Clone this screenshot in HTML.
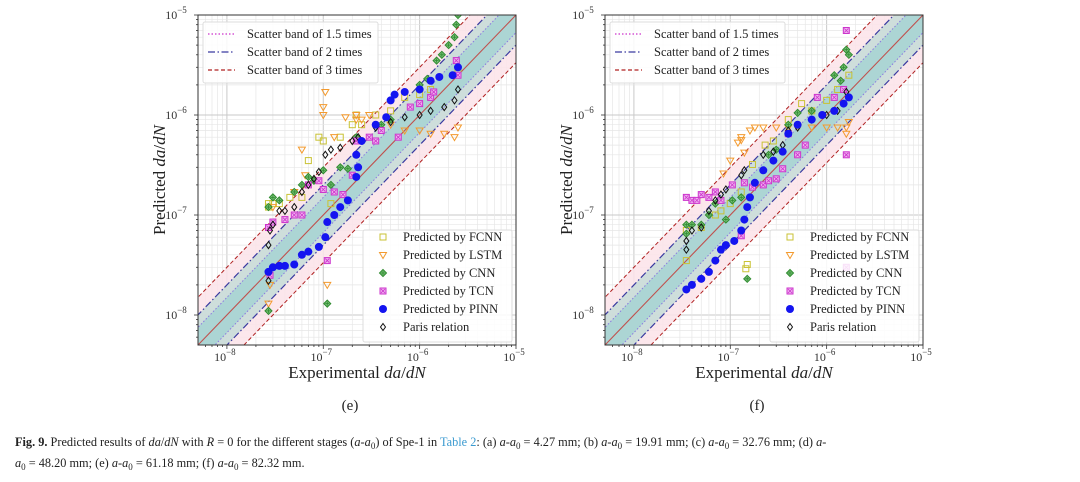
<!DOCTYPE html>
<html><head><meta charset="utf-8">
<style>
body{margin:0;background:#fff;}
svg{display:block;font-family:"Liberation Serif",serif;}
</style></head>
<body>
<svg id="fig" width="1080" height="482" viewBox="0 0 1080 482"></svg>
<script>
// ---- data: [experimental, predicted] pairs ----
const ePinn=[[2.7e-8,2.7e-8],[3e-8,3e-8],[3.5e-8,3.1e-8],[4e-8,3.1e-8],[5e-8,3.2e-8],[6e-8,4e-8],[7e-8,4.3e-8],[9e-8,4.8e-8],[1.05e-7,6e-8],[1.1e-7,8.5e-8],[1.3e-7,1e-7],[1.5e-7,1.2e-7],[1.8e-7,1.4e-7],[2.2e-7,2.4e-7],[2.3e-7,3e-7],[2.2e-7,4e-7],[2.5e-7,5.5e-7],[3.5e-7,8e-7],[4.5e-7,9.5e-7],[5e-7,1.4e-6],[5.5e-7,1.6e-6],[7e-7,1.7e-6],[1e-6,1.8e-6],[1.3e-6,2.2e-6],[1.6e-6,2.4e-6],[2.2e-6,2.5e-6],[2.5e-6,3e-6]];
const eFcnn=[[2.7e-8,1.3e-7],[3e-8,1.3e-7],[3.5e-8,1.3e-7],[4.5e-8,1.5e-7],[6e-8,1.5e-7],[7e-8,3.5e-7],[9e-8,6e-7],[1e-7,5.5e-7],[1.2e-7,1.3e-7],[1.5e-7,6e-7],[2e-7,8e-7],[2.2e-7,1e-6],[2.5e-7,8e-7],[3.5e-7,1e-6],[5e-7,1.1e-6],[7e-7,1.5e-6],[1e-6,1.6e-6],[1.3e-6,1.8e-6],[2.5e-6,2.7e-6],[2.7e-8,1.2e-7]];
const eLstm=[[2.7e-8,1.3e-8],[2.8e-8,2e-8],[3e-8,1.2e-7],[5e-8,1.7e-7],[6e-8,4.5e-7],[6.5e-8,2.5e-7],[1e-7,1.2e-6],[1.05e-7,1.7e-6],[1e-7,1e-6],[1.1e-7,2e-8],[1.3e-7,6e-7],[1.7e-7,9.5e-7],[2.2e-7,1e-6],[2.5e-7,9e-7],[3e-7,1e-6],[5e-7,8e-7],[7e-7,7e-7],[1e-6,7e-7],[1.3e-6,6.5e-7],[1.8e-6,6.5e-7],[2.3e-6,6e-7],[2.5e-6,7.5e-7],[2.2e-7,9e-7]];
const eCnn=[[2.7e-8,1.1e-8],[2.7e-8,1.2e-7],[3e-8,1.5e-7],[3.5e-8,1.4e-7],[5e-8,1.7e-7],[6e-8,2e-7],[7e-8,2.4e-7],[8e-8,2.2e-7],[1e-7,2.8e-7],[1.1e-7,1.3e-8],[1.2e-7,2e-7],[1.5e-7,3e-7],[1.8e-7,2.9e-7],[2.2e-7,6e-7],[4e-7,8e-7],[5e-7,9e-7],[1e-6,2e-6],[1.2e-6,2.3e-6],[1.5e-6,3.5e-6],[1.7e-6,4e-6],[2e-6,5e-6],[2.3e-6,6e-6],[2.4e-6,8e-6],[2.5e-6,1e-5]];
const eTcn=[[2.7e-8,7.5e-8],[2.8e-8,2.5e-8],[3e-8,8.5e-8],[4e-8,9e-8],[5e-8,1e-7],[6e-8,1e-7],[7e-8,2e-7],[9e-8,2.2e-7],[1e-7,1.8e-7],[1.1e-7,3.5e-8],[1.3e-7,1.7e-7],[1.6e-7,1.6e-7],[2e-7,2.5e-7],[2.2e-7,5.5e-7],[3e-7,6e-7],[3.5e-7,5.5e-7],[4e-7,7e-7],[6e-7,6e-7],[8e-7,1.2e-6],[1e-6,1.3e-6],[1.3e-6,1.5e-6],[1.4e-6,1.7e-6],[2.4e-6,3.5e-6],[2.5e-6,2.5e-6]];
const eParis=[[2.7e-8,2.2e-8],[2.7e-8,5e-8],[2.8e-8,7e-8],[3e-8,8e-8],[3.5e-8,1.1e-7],[4e-8,1.1e-7],[5e-8,1.2e-7],[6e-8,1.7e-7],[7e-8,2e-7],[8e-8,2.3e-7],[9e-8,2.7e-7],[1.05e-7,4e-7],[1.2e-7,4.5e-7],[1.5e-7,4.7e-7],[2e-7,5.5e-7],[2.3e-7,6e-7],[3.5e-7,7.5e-7],[5e-7,8.5e-7],[7e-7,9.5e-7],[1e-6,1e-6],[1.3e-6,1.1e-6],[1.8e-6,1.2e-6],[2.3e-6,1.4e-6],[2.5e-6,1.8e-6]];

const fPinn=[[3.5e-8,1.8e-8],[4e-8,2e-8],[5e-8,2.3e-8],[6e-8,2.7e-8],[7e-8,3.5e-8],[8e-8,4.5e-8],[9e-8,5e-8],[1.1e-7,5.5e-8],[1.3e-7,7e-8],[1.4e-7,9e-8],[1.5e-7,1.2e-7],[1.6e-7,1.5e-7],[1.8e-7,2.1e-7],[2.2e-7,2.8e-7],[2.8e-7,3.5e-7],[3.5e-7,4.3e-7],[4e-7,6.5e-7],[5e-7,8e-7],[7e-7,9e-7],[9e-7,1e-6],[1.2e-6,1.1e-6],[1.5e-6,1.3e-6],[1.7e-6,1.5e-6]];
const fFcnn=[[3.5e-8,3.5e-8],[3.5e-8,7e-8],[5e-8,7.5e-8],[7e-8,1e-7],[8e-8,1.1e-7],[1e-7,1.3e-7],[1.3e-7,1.7e-7],[1.45e-7,2.9e-8],[1.5e-7,3.2e-8],[1.7e-7,3.2e-7],[2.3e-7,5e-7],[2.8e-7,5.5e-7],[4e-7,9e-7],[5.5e-7,1.3e-6],[7e-7,1.1e-6],[1e-6,1.4e-6],[1.3e-6,1.8e-6],[1.7e-6,2.5e-6]];
const fLstm=[[1.2e-7,5.3e-7],[1.3e-7,5.6e-7],[1.4e-7,4.2e-7],[1.3e-7,6e-7],[1.6e-7,7e-7],[1e-7,3.5e-7],[1.8e-7,7.5e-7],[2.2e-7,7.5e-7],[3e-7,7.5e-7],[4e-7,7.5e-7],[5e-7,7.5e-7],[7e-7,7.5e-7],[1e-6,7.5e-7],[1.3e-6,7.5e-7],[1.6e-6,7.5e-7],[1.6e-6,6.5e-7],[1.7e-6,8.5e-7],[8.5e-8,2.6e-7]];
const fCnn=[[3.5e-8,6.5e-8],[3.5e-8,8e-8],[4e-8,8e-8],[5e-8,8e-8],[6e-8,1e-7],[7e-8,1.3e-7],[9e-8,9e-8],[1.05e-7,1.4e-7],[1.5e-7,2.3e-8],[1.3e-7,1.5e-7],[2.5e-7,4e-7],[3e-7,4.5e-7],[4e-7,8e-7],[5e-7,1.05e-6],[7e-7,1.1e-6],[1.2e-6,2.5e-6],[1.5e-6,3e-6],[1.6e-6,4.5e-6],[1.7e-6,4e-6],[1.4e-6,2.2e-6]];
const fTcn=[[3.5e-8,1.5e-7],[4e-8,1.4e-7],[4.5e-8,1.4e-7],[5e-8,1.6e-7],[6e-8,1.5e-7],[7e-8,1.7e-7],[8e-8,1.4e-7],[1.05e-7,2e-7],[1.3e-7,6.2e-8],[1.4e-7,2.1e-7],[1.7e-7,1.9e-7],[2.2e-7,2e-7],[2.5e-7,2.2e-7],[3e-7,2.3e-7],[3.5e-7,2.9e-7],[4e-7,6.5e-7],[5e-7,4e-7],[6e-7,5e-7],[8e-7,1.5e-6],[1.2e-6,1.5e-6],[1.5e-6,1.8e-6],[1.6e-6,7e-6],[1.6e-6,4e-7],[1.6e-6,3e-8]];
const fParis=[[3.5e-8,4.5e-8],[3.5e-8,5.5e-8],[4e-8,7e-8],[5e-8,7.5e-8],[6e-8,1.1e-7],[7e-8,1.4e-7],[8e-8,1.6e-7],[9e-8,1.8e-7],[1.3e-7,2.5e-7],[1.4e-7,2.8e-7],[2.2e-7,4e-7],[2.8e-7,4.3e-7],[3.5e-7,5e-7],[4e-7,7e-7],[5e-7,7.5e-7],[7e-7,9e-7],[1e-6,1e-6],[1.3e-6,1.1e-6],[1.6e-6,1.7e-6]];

const tickExps=[-8,-7,-6,-5];
const bandFactors=[1.5,2,3];
const legendBands=["Scatter band of 1.5 times","Scatter band of 2 times","Scatter band of 3 times"];
const legendSeries=["Predicted by FCNN","Predicted by LSTM","Predicted by CNN","Predicted by TCN","Predicted by PINN","Paris relation"];

const NS="http://www.w3.org/2000/svg";
const svg=document.getElementById('fig');
function mk(tag,attrs,parent){const e=document.createElementNS(NS,tag);for(const k in attrs)e.setAttribute(k,attrs[k]);(parent||svg).appendChild(e);return e;}

const LMIN=-8.3,LMAX=-5,TOP=15,H=330,W=318;

function drawChart(L,id,series,label){
  const X=v=>L+(Math.log10(v)-LMIN)/(LMAX-LMIN)*W;
  const Y=v=>TOP+(LMAX-Math.log10(v))/(LMAX-LMIN)*H;
  const g=mk('g',{});
  
  
  const cp=mk('clipPath',{id:'clip'+id},g);
  mk('rect',{x:L,y:TOP,width:W,height:H},cp);
  const pg=mk('g',{'clip-path':'url(#clip'+id+')'},g);
  // grid
  for(let d=-9;d<=-5;d++){for(let m=1;m<10;m++){const v=m*Math.pow(10,d);const lv=Math.log10(v);if(lv<LMIN||lv>LMAX)continue;
    const c=m===1?'#c9c9c9':'#e6e6e6';
    mk('line',{x1:X(v),x2:X(v),y1:TOP,y2:TOP+H,stroke:c,'stroke-width':m===1?1:0.7},pg);
    mk('line',{x1:L,x2:L+W,y1:Y(v),y2:Y(v),stroke:c,'stroke-width':m===1?1:0.7},pg);}}
  // bands
  const x0=Math.pow(10,LMIN-0.6),x1=Math.pow(10,LMAX+0.6);
  const fills=['#a6d3d2','#c6dcd8','#fbe3e9'];
  for(let i=bandFactors.length-1;i>=0;i--){const k=bandFactors[i];
    const b=mk('polygon',{points:`${X(x0)},${Y(x0*k)} ${X(x1)},${Y(x1*k)} ${X(x1)},${Y(x1/k)} ${X(x0)},${Y(x0/k)}`,fill:fills[i],opacity:0.85},pg);
    
    }
  const styles=[{stroke:'#8a7ae0',dash:'1.5,2',w:1},{stroke:'#3a3aa0',dash:'7,2.5,1.5,2.5',w:1.2},{stroke:'#b02020',dash:'4,2.5',w:1}];
  for(let i=0;i<bandFactors.length;i++){const k=bandFactors[i],s=styles[i];
    for(const f of [k,1/k]){mk('line',{x1:X(x0),y1:Y(x0*f),x2:X(x1),y2:Y(x1*f),stroke:s.stroke,'stroke-dasharray':s.dash,'stroke-width':s.w},pg);}}
  mk('line',{x1:X(x0),y1:Y(x0),x2:X(x1),y2:Y(x1),stroke:'#c0504d','stroke-width':1.1},pg);
  // points
  const drawers=[
    (x,y,p)=>mk('rect',{x:x-3,y:y-3,width:6,height:6,fill:'none',stroke:'#c9c234','stroke-width':1},p),
    (x,y,p)=>mk('polygon',{points:`${x-3.5},${y-2.5} ${x+3.5},${y-2.5} ${x},${y+3.5}`,fill:'none',stroke:'#f39a2e','stroke-width':1},p),
    (x,y,p)=>{const gg=mk('g',{},p);mk('polygon',{points:`${x},${y-3.5} ${x+3.5},${y} ${x},${y+3.5} ${x-3.5},${y}`,fill:'#7cc07c',stroke:'#2e8b2e','stroke-width':1},gg);mk('path',{d:`M${x-2} ${y}H${x+2}M${x} ${y-2}V${y+2}`,stroke:'#2e8b2e','stroke-width':0.8},gg);return gg;},
    (x,y,p)=>{const gg=mk('g',{},p);mk('rect',{x:x-3,y:y-3,width:6,height:6,fill:'#f0b0f0',stroke:'#cc33cc','stroke-width':1},gg);mk('path',{d:`M${x-2} ${y-2}L${x+2} ${y+2}M${x+2} ${y-2}L${x-2} ${y+2}`,stroke:'#cc33cc','stroke-width':0.8},gg);return gg;},
    (x,y,p)=>mk('circle',{cx:x,cy:y,r:4,fill:'#1414f0'},p),
    (x,y,p)=>mk('polygon',{points:`${x},${y-3.5} ${x+2.5},${y} ${x},${y+3.5} ${x-2.5},${y}`,fill:'none',stroke:'#111','stroke-width':1},p)
  ];
  const names=['fcnn','lstm','cnn','tcn','pinn','paris'];
  const order=[0,1,2,3,5,4];
  for(const i of order){const sg=mk('g',{},pg);
    
    
    for(const [ex,pr] of series[i]){const m=drawers[i](X(ex),Y(pr),sg);
      
      }}
  // frame
  mk('rect',{x:L,y:TOP,width:W,height:H,fill:'none',stroke:'#333','stroke-width':1},g);
  // ticks
  for(let d=-9;d<=-5;d++){for(let m=1;m<10;m++){const v=m*Math.pow(10,d);const lv=Math.log10(v);if(lv<LMIN-1e-9||lv>LMAX+1e-9)continue;
    const len=m===1?4:2;
    mk('line',{x1:X(v),x2:X(v),y1:TOP+H,y2:TOP+H+len,stroke:'#333','stroke-width':0.8},g);
    mk('line',{x1:L,x2:L-len,y1:Y(v),y2:Y(v),stroke:'#333','stroke-width':0.8},g);}}
  for(const e of tickExps){
    const tx=mk('text',{x:X(Math.pow(10,e))-2,y:TOP+H+16,'font-size':12,'text-anchor':'middle',fill:'#333'},g);
    
    
    tx.innerHTML=`10<tspan dy="-6" font-size="9">−${-e}</tspan>`;
    const ty=mk('text',{x:L-22,y:Y(Math.pow(10,e))+4,'font-size':12,'text-anchor':'middle',fill:'#333'},g);
    
    
    ty.innerHTML=`10<tspan dy="-6" font-size="9">−${-e}</tspan>`;
  }
  const xt=mk('text',{x:L+W/2,y:378,'font-size':17,'text-anchor':'middle',fill:'#222'},g);
  
  
  xt.innerHTML='Experimental <tspan font-style="italic">da</tspan>/<tspan font-style="italic">dN</tspan>';
  const yt=mk('text',{x:0,y:0,'font-size':17,'text-anchor':'middle',fill:'#222',transform:`translate(${L-33},${TOP+H/2}) rotate(-90)`},g);
  
  
  yt.innerHTML='Predicted <tspan font-style="italic">da</tspan>/<tspan font-style="italic">dN</tspan>';
  // band legend
  const lg=mk('g',{},g);
  
  
  mk('rect',{x:L+5,y:TOP+7,width:175,height:61,fill:'#fff','fill-opacity':0.85,stroke:'#ddd',rx:2},lg);
  for(let i=0;i<3;i++){const yy=TOP+19+i*18,s=styles[i];
    mk('line',{x1:L+10,x2:L+37,y1:yy,y2:yy,stroke:i===0?'#cc33cc':s.stroke,'stroke-dasharray':s.dash,'stroke-width':1.2},lg);
    const t=mk('text',{x:L+49,y:yy+4,'font-size':12.5,fill:'#222'},lg);t.textContent=legendBands[i];
    
    }
  // series legend
  const sl=mk('g',{},g);
  
  
  mk('rect',{x:L+165,y:TOP+215,width:149,height:112,fill:'#fff','fill-opacity':0.85,stroke:'#ddd',rx:2},sl);
  for(let i=0;i<6;i++){const yy=TOP+222+i*18;drawers[i](L+185,yy,sl);
    const t=mk('text',{x:L+205,y:yy+4,'font-size':12.5,fill:'#222'},sl);t.textContent=legendSeries[i];
    
    }
  const pl=mk('text',{x:L+W/2-7,y:410,'font-size':15,'text-anchor':'middle',fill:'#222'},g);
  pl.textContent=label;
  
  
}
drawChart(198,'e',[eFcnn,eLstm,eCnn,eTcn,ePinn,eParis],'(e)');
drawChart(605,'f',[fFcnn,fLstm,fCnn,fTcn,fPinn,fParis],'(f)');

const cap=mk('text',{x:15,y:446,'font-size':12.3,fill:'#222'});


cap.innerHTML='<tspan font-weight="bold">Fig. 9.</tspan>  Predicted results of <tspan font-style="italic">da</tspan>/<tspan font-style="italic">dN</tspan> with <tspan font-style="italic">R</tspan> = 0 for the different stages (<tspan font-style="italic">a</tspan>-<tspan font-style="italic">a</tspan><tspan font-size="9" dy="3">0</tspan><tspan dy="-3">) of Spe-1 in </tspan><tspan fill="#3a9ad0">Table 2</tspan>: (a) <tspan font-style="italic">a</tspan>-<tspan font-style="italic">a</tspan><tspan font-size="9" dy="3">0</tspan><tspan dy="-3"> = 4.27 mm; (b) </tspan><tspan font-style="italic">a</tspan>-<tspan font-style="italic">a</tspan><tspan font-size="9" dy="3">0</tspan><tspan dy="-3"> = 19.91 mm; (c) </tspan><tspan font-style="italic">a</tspan>-<tspan font-style="italic">a</tspan><tspan font-size="9" dy="3">0</tspan><tspan dy="-3"> = 32.76 mm; (d) </tspan><tspan font-style="italic">a</tspan>-';
const cap2=mk('text',{x:15,y:467,'font-size':12.3,fill:'#222'});


cap2.innerHTML='<tspan font-style="italic">a</tspan><tspan font-size="9" dy="3">0</tspan><tspan dy="-3"> = 48.20 mm; (e) </tspan><tspan font-style="italic">a</tspan>-<tspan font-style="italic">a</tspan><tspan font-size="9" dy="3">0</tspan><tspan dy="-3"> = 61.18 mm; (f) </tspan><tspan font-style="italic">a</tspan>-<tspan font-style="italic">a</tspan><tspan font-size="9" dy="3">0</tspan><tspan dy="-3"> = 82.32 mm.</tspan>';
</script>
</body></html>
